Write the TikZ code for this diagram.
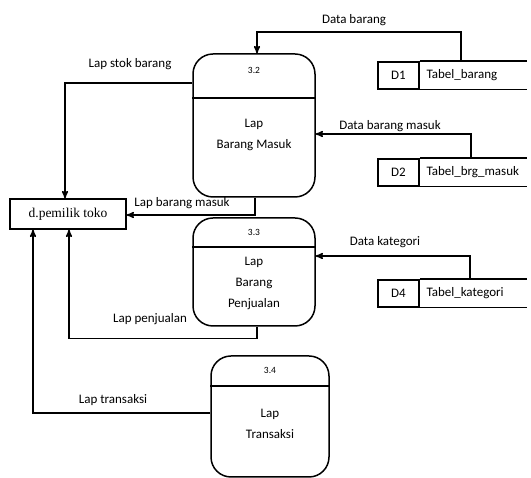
\documentclass[tikz,border=0pt]{standalone}
\usepackage{fontspec}
\setmainfont{Carlito}
\newfontfamily\timesfont{Liberation Serif}
\usetikzlibrary{arrows, positioning, calc}

\begin{document}
\begin{tikzpicture}[x=1pt,y=1pt,>=stealth',line width=1.5pt,
    proses/.style={draw,rectangle,rounded corners=20pt,inner sep=0pt},
    idproses/.style={font=\fontsize{9.5}{12}\selectfont},
    teks/.style={align=center,font=\fontsize{13}{21}\selectfont},
    lbl/.style={font=\fontsize{13}{16}\selectfont,inner sep=1pt},
    dkode/.style={draw,minimum width=41pt,minimum height=27pt,inner sep=0pt,font=\fontsize{13}{16}\selectfont},
    tabel/.style={minimum width=106pt,minimum height=27pt,inner sep=0pt,text width=100pt,align=left,font=\fontsize{13}{16}\selectfont},
    entitas/.style={draw,minimum width=116pt,minimum height=30pt,inner sep=0pt,font=\timesfont\fontsize{13.5}{16}\selectfont}]
  \useasboundingbox (0,0) rectangle (531,478);

  \node[proses, minimum width=122pt, minimum height=143pt] (p32) at (254,352.5) {};
  \node[idproses] (id32) at ([yshift=-17]p32.north) {3.2};
  \node[teks] (t32) at ([yshift=-9.5]p32.center) {Lap\\Barang Masuk};
  \draw ([yshift=-45]p32.north west) -- ([yshift=-45]p32.north east);

  \node[proses, minimum width=122pt, minimum height=108pt] (p33) at (254,206) {};
  \node[idproses] (id33) at ([yshift=-15]p33.north) {3.3};
  \node[teks] (t33) at ([yshift=-11]p33.center) {Lap\\Barang\\Penjualan};
  \draw ([yshift=-30]p33.north west) -- ([yshift=-30]p33.north east);

  \node[proses, minimum width=118pt, minimum height=121pt] (p34) at (270,61.5) {};
  \node[idproses] (id34) at ([yshift=-15]p34.north) {3.4};
  \node[teks] (t34) at ([yshift=-7.5]p34.center) {Lap\\Transaksi};
  \draw ([yshift=-31]p34.north west) -- ([yshift=-31]p34.north east);

  \node[entitas] (pemilik) at (68,264) {d.pemilik toko};

  \node[dkode] (d1) at (398.5,402.5) {D1};
  \node[tabel, anchor=west] (tb1) at (d1.east) {\hspace{3pt}Tabel\_barang};
  \draw (tb1.north west) -- (tb1.north east) (tb1.south west) -- (tb1.south east);

  \node[dkode] (d2) at (398.5,305.5) {D2};
  \node[tabel, anchor=west] (tb2) at (d2.east) {\hspace{3pt}Tabel\_brg\_masuk};
  \draw (tb2.north west) -- (tb2.north east) (tb2.south west) -- (tb2.south east);

  \node[dkode] (d4) at (398.5,184.5) {D4};
  \node[tabel, anchor=west] (tb4) at (d4.east) {\hspace{3pt}Tabel\_kategori};
  \draw (tb4.north west) -- (tb4.north east) (tb4.south west) -- (tb4.south east);

  \draw[->] ([xshift=41]tb1.north west) -- ++(0,29) -| ([xshift=3]p32.north);
  \draw[->] ([xshift=51]tb2.north west) |- ([yshift=-8.5]p32.east);
  \draw[->] ([xshift=50]tb4.north west) |- ([yshift=16]p33.east);
  \draw[->] ([yshift=42.5]p32.west) -| ([xshift=-3]pemilik.north);
  \draw[->] ([xshift=1]p32.south) |- ([yshift=-1]pemilik.east);
  \draw[->] ([xshift=3]p33.south) -- ++(0,-12) -| ([xshift=1]pemilik.south);
  \draw[->] ([yshift=3.5]p34.west) -| ([xshift=-35]pemilik.south);

  \node[lbl] (ldb) at (354,458) {Data barang};
  \node[lbl] (ldbm) at (390,352) {Data barang masuk};
  \node[lbl] (ldk) at (385,236) {Data kategori};
  \node[lbl] (lstok) at (130,414) {Lap stok barang};
  \node[lbl] (lmasuk) at (182,275) {Lap barang masuk};
  \node[lbl] (ljual) at (150,159) {Lap penjualan};
  \node[lbl] (ltrans) at (113,78) {Lap transaksi};
\end{tikzpicture}
\end{document}
